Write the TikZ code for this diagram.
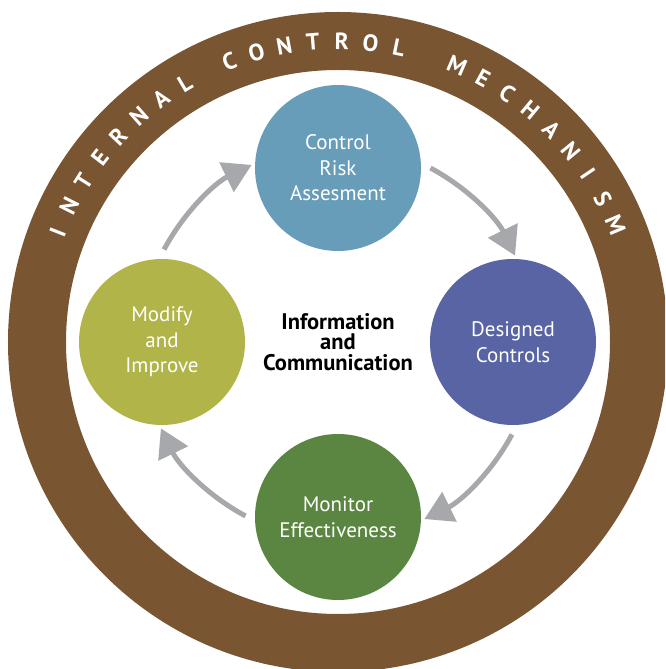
\documentclass[tikz,border=0pt]{standalone}
\usepackage{fontspec}
\setmainfont{PT Sans}
\usetikzlibrary{arrows.meta, positioning}

\definecolor{icBrown}{HTML}{795532}
\definecolor{icBlue}{HTML}{689DBA}
\definecolor{icSlate}{HTML}{5864A3}
\definecolor{icOlive}{HTML}{B0B449}
\definecolor{icGreen}{HTML}{5B8642}
\definecolor{icGray}{HTML}{A7A8AB}

\tikzset{
  stage/.style={
    circle, minimum size=166pt, inner sep=0pt, text=white, align=center,
    font=\fontsize{21}{25.5}\selectfont
  },
  hubtext/.style={font=\fontsize{22.5}{20.5}\selectfont\bfseries, align=center},
  flow/.style={-{Triangle[length=28pt, width=32pt]}, line width=5pt, icGray},
  ringletter/.style={text=white, inner sep=0pt, font=\fontsize{23.5}{23.5}\selectfont\bfseries}
}

\begin{document}
\begin{tikzpicture}[x=1pt, y=1pt]
  \useasboundingbox (-338,-327) rectangle (327,342);
  \clip (-338,-327) rectangle (327,342);
  \fill[icBrown, even odd rule] (0,0) circle[radius=330] circle[radius=272];

  \node[hubtext] (info) at (0,0) {Information\\and\\Communication};

  \node[stage, fill=icBlue]  (risk)    at (90:174)  {Control\\Risk\\Assesment};
  \node[stage, fill=icSlate] (design)  at (0:175)   {Designed\\Controls};
  \node[stage, fill=icGreen] (monitor) at (-90:175) {Monitor\\Effectiveness};
  \node[stage, fill=icOlive] (improve) at (180:176) {Modify\\and\\Improve};

  % clockwise arrows between the stages
  \foreach \s in {180,90,0,-90}
    \draw[flow] ([shift={(\s-28:197)}]info.center) arc[start angle=\s-28, end angle=\s-64, radius=197];

  \foreach \ch/\ang [count=\k] in {I/158.6,N/153.2,T/147.7,E/142.3,R/136.9,N/131.4,A/126.0,L/120.6,
      C/111.2,O/105.7,N/100.3,T/94.8,R/89.3,O/83.8,L/78.3,
      M/66.7,E/61.2,C/55.8,H/50.3,A/44.8,N/39.4,I/33.9,S/28.4,M/22.9}
    \node[ringletter, rotate=\ang-90] (ltr\k) at (\ang:301) {\ch};
\end{tikzpicture}
\end{document}
